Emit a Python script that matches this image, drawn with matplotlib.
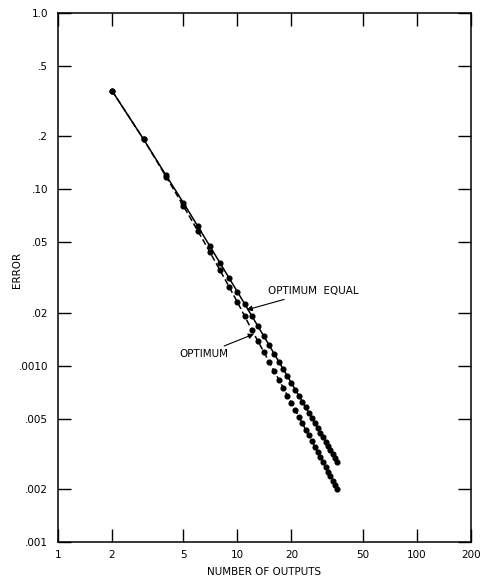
import matplotlib
matplotlib.use("Agg")
import matplotlib.pyplot as plt
from matplotlib.ticker import FixedLocator, NullLocator

# ── data ──────────────────────────────────────────────────────────────────────
n_outputs = list(range(2, 37))

err_equal = [0.362, 0.192, 0.120, 0.0838, 0.0619, 0.0478, 0.0382, 0.0313,
             0.0262, 0.0223, 0.0192, 0.01675, 0.01474, 0.01309, 0.01171,
             0.01055, 0.00956, 0.00871, 0.00797, 0.00732, 0.00675, 0.00625,
             0.00580, 0.00540, 0.00504, 0.00472, 0.00443, 0.00417, 0.00393,
             0.00371, 0.00351, 0.00333, 0.00316, 0.00300, 0.00286]

err_opt = [0.362, 0.192, 0.118, 0.0805, 0.0583, 0.0443, 0.0347, 0.0279,
           0.0229, 0.0190, 0.0160, 0.01379, 0.01200, 0.01055, 0.00934,
           0.00834, 0.00749, 0.00677, 0.00614, 0.00560, 0.00512, 0.00471,
           0.00434, 0.00402, 0.00372, 0.00347, 0.00323, 0.00303, 0.00284,
           0.00266, 0.00251, 0.00237, 0.00223, 0.00211, 0.00200]

x_ticks = [1, 2, 5, 10, 20, 50, 100, 200]
x_labels = ["1", "2", "5", "10", "20", "50", "100", "200"]
y_ticks = [1.0, 0.5, 0.2, 0.1, 0.05, 0.02, 0.01, 0.005, 0.002, 0.001]
y_labels = ["1.0", ".5", ".2", ".10", ".05", ".02", ".0010", ".005", ".002", ".001"]

# ── figure ────────────────────────────────────────────────────────────────────
fig = plt.figure(figsize=(4.87, 5.85), dpi=100)
fig.patch.set_facecolor("white")
ax = fig.add_axes([0.119, 0.0735, 0.848, 0.9045])

ax.plot(n_outputs, err_equal, "-", color="black", lw=1.1,
        marker="o", ms=3.4, mfc="black", mec="black")
ax.plot(n_outputs, err_opt, "--", color="black", lw=1.1, dashes=(4, 2),
        marker="o", ms=3.4, mfc="black", mec="black")

ax.set_xscale("log")
ax.set_yscale("log")
ax.set_xlim(1, 200)
ax.set_ylim(0.001, 1.0)

ax.xaxis.set_major_locator(FixedLocator(x_ticks))
ax.xaxis.set_minor_locator(NullLocator())
ax.set_xticklabels(x_labels)
ax.yaxis.set_major_locator(FixedLocator(y_ticks))
ax.yaxis.set_minor_locator(NullLocator())
ax.set_yticklabels(y_labels)

ax.tick_params(direction="in", length=9.5, width=1.0, top=True, right=True,
               labelsize=7.5, colors="black")
ax.tick_params(axis="y", pad=7)
ax.tick_params(axis="x", pad=6)
for sp in ax.spines.values():
    sp.set_linewidth(1.1)
    sp.set_color("black")

ax.set_xlabel("NUMBER OF OUTPUTS", fontsize=7.5, labelpad=5)
ax.set_ylabel("ERROR", fontsize=7.5)
ax.yaxis.set_label_coords(-0.087, 0.515)

# ── annotations ───────────────────────────────────────────────────────────────
arrow = dict(arrowstyle="-|>", color="black", lw=0.8, mutation_scale=8,
             shrinkA=1, shrinkB=0)
ax.annotate("OPTIMUM  EQUAL", xy=(11.25, 0.0207), xytext=(14.8, 0.0264),
            ha="left", va="center", fontsize=7.5, arrowprops=arrow)
ax.annotate("OPTIMUM", xy=(12.36, 0.0151), xytext=(8.85, 0.0116),
            ha="right", va="center", fontsize=7.5, arrowprops=arrow)

fig.savefig("out.png", dpi=100, facecolor="white")
